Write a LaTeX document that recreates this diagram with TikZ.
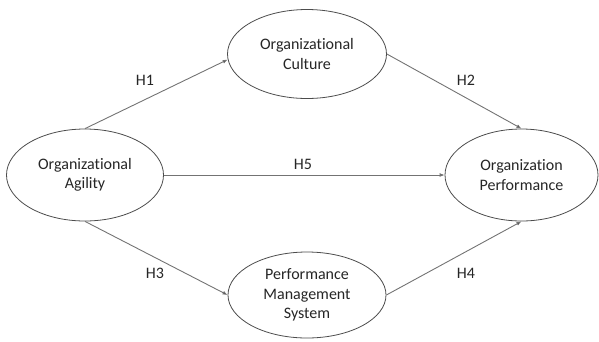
\documentclass[tikz,border=0pt]{standalone}
\usepackage{fontspec}
\setmainfont{Carlito}[RawFeature={-liga;-clig;-rlig;-dlig;-calt}]
\usetikzlibrary{shapes.geometric,arrows.meta}
\begin{document}
\begin{tikzpicture}[x=1pt,y=-1pt,
  construct/.style={ellipse,draw=black!70,line width=0.8pt,fill=white,align=center,
    font=\fontsize{16}{19.5}\selectfont,text=black!85,inner sep=0pt},
  link/.style={draw=black!55,line width=0.9pt,-{Latex[length=5pt,width=4pt,fill=black]}},
  hlabel/.style={font=\fontsize{16}{19}\selectfont,text=black!85,inner sep=0pt}]
\useasboundingbox (0,0) rectangle (599,341);
\node[construct,minimum width=157pt,minimum height=92pt] (L) at (85,175) {Organizational\\Agility};
\node[construct,minimum width=159pt,minimum height=89pt] (T) at (307,54) {Organizational\\Culture};
\node[construct,minimum width=153pt,minimum height=92pt] (R) at (521.5,175) {Organization\\Performance};
\node[construct,minimum width=158pt,minimum height=86pt] (B) at (307,295) {Performance\\Management\\System};
\draw[link] (L.north) -- (T.184);
\draw[link] (T.east) -- (R.north);
\draw[link] (L.east) -- (R.west);
\draw[link] (L.south) -- (B.west);
\draw[link] (B.east) -- (R.south);
\node[hlabel] (h1) at (145,80) {H1};
\node[hlabel] (h2) at (466,80) {H2};
\node[hlabel] (h5) at (303,164) {H5};
\node[hlabel] (h3) at (155,273) {H3};
\node[hlabel] (h4) at (466,273) {H4};
\end{tikzpicture}
\end{document}
